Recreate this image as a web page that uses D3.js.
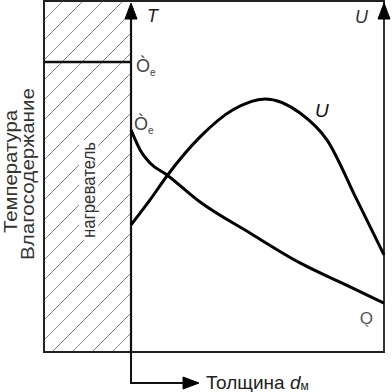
<!DOCTYPE html>
<html>
<head>
<meta charset="utf-8">
<script src="https://cdn.jsdelivr.net/npm/d3@7"></script>
<style>
  html, body { margin: 0; padding: 0; background: #fff; }
  text { font-family: "Liberation Sans", Arial, sans-serif; }
</style>
</head>
<body>
<div id="chart"></div>
<script>
// relative thickness (0 = heater surface, 1 = outer surface)
var tempX = [0, 0.036, 0.075, 0.142, 0.273, 0.47, 0.668, 0.866, 1.0];
var tempY = [0.631, 0.574, 0.537, 0.503, 0.426, 0.338, 0.253, 0.185, 0.139];
var moistX = [0, 0.075, 0.142, 0.273, 0.403, 0.53, 0.668, 0.775, 0.893, 1.0];
var moistY = [0.361, 0.432, 0.5, 0.611, 0.688, 0.719, 0.679, 0.602, 0.432, 0.276];
var heaterWidth = -0.344;   // heater zone to the left of the surface
var heaterTemp = 0.824;

var W = 392, H = 392;
var svg = d3.select("#chart").append("svg").attr("width", W).attr("height", H);

var x = d3.scaleLinear().domain([heaterWidth, 1]).range([44, 384]);
var y = d3.scaleLinear().domain([0, 1]).range([352, 0]);

// hatch pattern for heater
var defs = svg.append("defs");
var pat = defs.append("pattern")
  .attr("id", "hatch")
  .attr("patternUnits", "userSpaceOnUse")
  .attr("width", 20).attr("height", 20)
  .attr("x", 4).attr("y", 0);
pat.append("path")
  .attr("d", "M-5,25 L25,-5 M-5,5 L5,-5 M15,25 L25,15")
  .attr("stroke", "#888").attr("stroke-width", 1);

svg.append("rect")
  .attr("x", x(heaterWidth)).attr("y", y(1))
  .attr("width", x(0) - x(heaterWidth)).attr("height", y(0) - y(1))
  .attr("fill", "url(#hatch)");

// white box behind heater label
svg.append("rect")
  .attr("x", 79).attr("y", 140).attr("width", 19).attr("height", 100)
  .attr("fill", "#fff");

// outer frame
svg.append("rect")
  .attr("x", x(heaterWidth)).attr("y", y(1) + 1)
  .attr("width", x(1) - x(heaterWidth)).attr("height", y(0) - y(1) - 1)
  .attr("fill", "none").attr("stroke", "#222").attr("stroke-width", 2);

// heater temperature level
svg.append("line")
  .attr("x1", x(heaterWidth)).attr("x2", x(0))
  .attr("y1", y(heaterTemp)).attr("y2", y(heaterTemp))
  .attr("stroke", "#111").attr("stroke-width", 2.5);

// T axis, running down into the thickness arrow
svg.append("line")
  .attr("x1", x(0)).attr("x2", x(0)).attr("y1", y(0)).attr("y2", 10)
  .attr("stroke", "#111").attr("stroke-width", 2.2);
svg.append("path")
  .attr("d", "M" + x(0) + "," + y(0) + " V383 H188")
  .attr("fill", "none").attr("stroke", "#111").attr("stroke-width", 2);

// U axis on the right
svg.append("line")
  .attr("x1", x(1)).attr("x2", x(1)).attr("y1", y(0)).attr("y2", 10)
  .attr("stroke", "#333").attr("stroke-width", 2);

// arrowheads
var tri = d3.symbol().type(d3.symbolTriangle).size(110);
svg.append("polygon")
  .attr("points", [[x(0), 3], [x(0) - 6, 19], [x(0) + 6, 19]].join(" "))
  .style("fill", "black").style("stroke", "black");
svg.append("polygon")
  .attr("points", [[x(1), 3], [x(1) - 6, 19], [x(1) + 6, 19]].join(" "))
  .style("fill", "black").style("stroke", "black");
svg.append("polygon")
  .attr("points", [[199, 383], [183, 377], [183, 389]].join(" "))
  .style("fill", "black").style("stroke", "black");

// curves
var line = d3.line()
  .x(function (d) { return x(d[0]); })
  .y(function (d) { return y(d[1]); })
  .curve(d3.curveMonotoneX);

svg.append("path")
  .datum(d3.zip(tempX, tempY))
  .attr("d", line)
  .attr("fill", "none").attr("stroke", "#000").attr("stroke-width", 3);

svg.append("path")
  .datum(d3.zip(moistX, moistY))
  .attr("d", line)
  .attr("fill", "none").attr("stroke", "#000").attr("stroke-width", 3);

// labels
svg.append("text").attr("x", 147).attr("y", 22)
  .attr("font-size", 18).attr("font-style", "italic").attr("fill", "#222").text("T");
svg.append("text").attr("x", 355).attr("y", 23)
  .attr("font-size", 18).attr("font-style", "italic").attr("fill", "#333").text("U");
svg.append("text").attr("x", 315).attr("y", 117)
  .attr("font-size", 19).attr("font-style", "italic").attr("fill", "#111").text("U");

function theta(px, py, sub) {
  var t = svg.append("text").attr("x", px).attr("y", py)
    .attr("font-size", 18).attr("fill", "#444").text("Ò");
  t.append("tspan").attr("dy", 4).attr("font-size", 10).text(sub);
}
theta(136, 72, "е");
theta(134, 130, "е");

svg.append("text")
  .attr("transform", "translate(373,312) rotate(180)")
  .attr("font-size", 17).attr("fill", "#555").text("Ò");

svg.append("text")
  .attr("transform", "translate(17,233) rotate(-90)")
  .attr("font-size", 18).attr("fill", "#333")
  .attr("textLength", 123).attr("lengthAdjust", "spacingAndGlyphs")
  .text("Температура");
svg.append("text")
  .attr("transform", "translate(34,260) rotate(-90)")
  .attr("font-size", 18).attr("fill", "#333")
  .attr("textLength", 172).attr("lengthAdjust", "spacingAndGlyphs")
  .text("Влагосодержание");
svg.append("text")
  .attr("transform", "translate(95,238) rotate(-90)")
  .attr("font-size", 18).attr("fill", "#333")
  .attr("textLength", 96).attr("lengthAdjust", "spacingAndGlyphs")
  .text("нагреватель");

var xl = svg.append("text").attr("x", 206).attr("y", 389)
  .attr("font-size", 19).attr("fill", "#222").text("Толщина ");
xl.append("tspan").attr("font-style", "italic").text("d");
xl.append("tspan").attr("font-size", 12).attr("dy", 1).text("м");
</script>
</body>
</html>
